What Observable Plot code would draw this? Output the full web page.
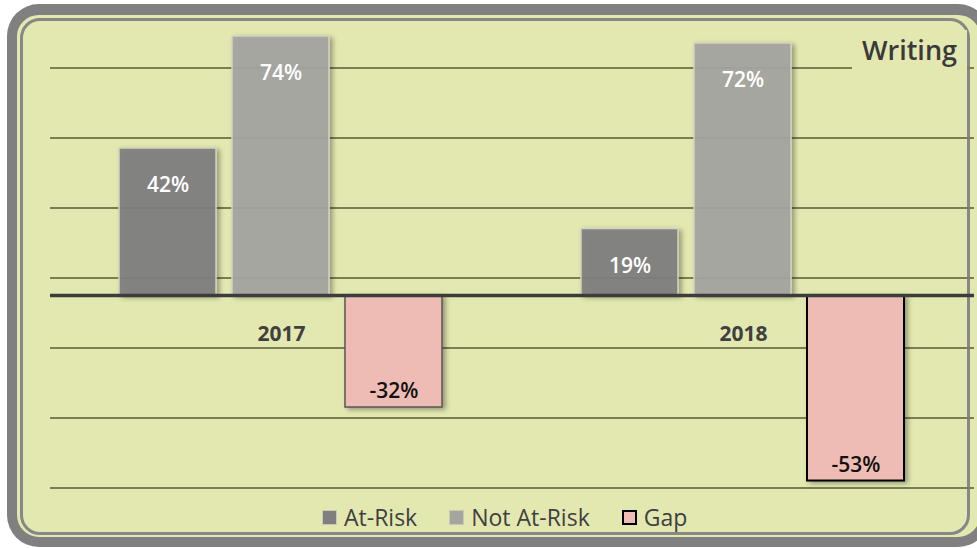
<!DOCTYPE html>
<html>
<head>
<meta charset="utf-8">
<script src="https://cdn.jsdelivr.net/npm/d3@7"></script>
<script src="https://cdn.jsdelivr.net/npm/@observablehq/plot@0.6"></script>
<style>
  html, body { margin: 0; padding: 0; background: #ffffff; }
  #wrap { position: relative; width: 977px; height: 548px; overflow: hidden; background: #ffffff; font-family: "Open Sans", "Noto Sans", sans-serif; }
  .outer { position: absolute; left: 7px; top: 4px; width: 983px; height: 543px; box-sizing: border-box;
           border-style: solid; border-color: #808080; border-width: 11px 10px 10px 10px; border-radius: 32px; background: #e3e8b0; }
  .inner { position: absolute; left: 20px; top: 18px; width: 950px; height: 517px; box-sizing: border-box;
           border: 3px solid #878787; border-radius: 20px; }
  #chart { position: absolute; left: 0; top: 0; }
  #title { position: absolute; left: 852px; top: 30px; width: 105px; height: 40px; padding: 6px 10px 0 0;
           background: #e3e8b0; text-align: right; font-size: 27px; line-height: 27px; font-weight: 600; color: #3a3a3a; }
  #legend { position: absolute; left: 322px; top: 502px; display: flex; align-items: center; font-size: 23px; line-height: 30px; color: #404040; white-space: nowrap; }
  #legend .item { display: flex; align-items: center; margin-right: 32px; }
  #legend .item:last-child { margin-right: 0; }
  #legend .sw { flex: none; width: 15px; height: 15px; margin-right: 7px; box-sizing: border-box; }
</style>
</head>
<body>
<div id="wrap">
  <div class="outer"></div>
  <div class="inner"></div>
  <div id="chart"></div>
  <div id="title"></div>
  <div id="legend"></div>
</div>
<script>
// ---- data ----
const chartTitle = "Writing";
const years = ["2017", "2018"];
const seriesNames = ["At-Risk", "Not At-Risk", "Gap"];
const atRisk = [42, 19];
const notAtRisk = [74, 72];
const gap = [-32, -53];
const gridValues = [65, 45, 25, 5, -15, -35, -55];
const seriesColors = ["#7f7f7f", "#a5a5a0", "#eebcb5"];

const rows = years.flatMap((year, i) => [
  {year, series: seriesNames[0], value: atRisk[i]},
  {year, series: seriesNames[1], value: notAtRisk[i]},
  {year, series: seriesNames[2], value: gap[i]}
]);
const grayRows = rows.filter(d => d.series !== "Gap");
const gapRows = rows.filter(d => d.series === "Gap");

const chart = Plot.plot({
  width: 977,
  height: 500,
  marginLeft: 50,
  marginRight: 3,
  marginTop: 15,
  marginBottom: 5,
  style: {background: "transparent", fontFamily: "'Open Sans', 'Noto Sans', sans-serif", overflow: "visible"},
  fx: {domain: years, padding: 0, axis: null, label: null},
  x: {domain: seriesNames, paddingInner: 0.14, paddingOuter: 0.6, axis: null},
  y: {domain: [-57.14, 80], axis: null},
  color: {domain: seriesNames, range: seriesColors},
  marks: [
    Plot.ruleY(gridValues, {stroke: "#7b7d52", strokeWidth: 2}),
    Plot.barY(grayRows, {fx: "year", x: "series", y: "value", fill: "series", fillOpacity: 0.93, stroke: "#d2d2c2", strokeWidth: 1.5}),
    Plot.barY(gapRows.filter(d => d.year === years[0]), {fx: "year", x: "series", y: "value", fill: "series", stroke: "#555555", strokeWidth: 1.5}),
    Plot.barY(gapRows.filter(d => d.year === years[1]), {fx: "year", x: "series", y: "value", fill: "series", stroke: "#000000", strokeWidth: 2}),
    Plot.ruleY([0], {stroke: "#3c3c3c", strokeWidth: 3.5}),
    Plot.text(grayRows, {fx: "year", x: "series", y: "value", text: d => d.value + "%", dy: 37, fill: "#ffffff", fontSize: 21, fontWeight: 600}),
    Plot.text(gapRows, {fx: "year", x: "series", y: "value", text: d => d.value + "%", dy: -16, fill: "#111111", fontSize: 21, fontWeight: 600}),
    Plot.text(years, {fx: d => d, y: d => 0, text: d => d, dy: 39, fill: "#404040", fontSize: 21, fontWeight: 700})
  ]
});

// drop shadow for bars
const svg = d3.select(chart);
const filt = svg.insert("defs", ":first-child").append("filter")
  .attr("id", "barShadow").attr("x", "-20%").attr("y", "-20%").attr("width", "150%").attr("height", "150%");
filt.append("feDropShadow").attr("dx", 3).attr("dy", 2).attr("stdDeviation", 2.5)
  .attr("flood-color", "#000").attr("flood-opacity", 0.35);
svg.selectAll('g[aria-label="bar"] rect').attr("filter", "url(#barShadow)");

document.getElementById("chart").appendChild(chart);
document.getElementById("title").textContent = chartTitle;

// legend
const legend = document.getElementById("legend");
seriesNames.forEach((name, i) => {
  const item = document.createElement("div");
  item.className = "item";
  const sw = document.createElement("div");
  sw.className = "sw";
  sw.style.background = seriesColors[i];
  if (name === "Gap") sw.style.border = "2px solid #000";
  else sw.style.border = "1px solid #c9c9b8";
  const label = document.createElement("span");
  label.textContent = name;
  item.appendChild(sw);
  item.appendChild(label);
  legend.appendChild(item);
});
</script>
</body>
</html>
